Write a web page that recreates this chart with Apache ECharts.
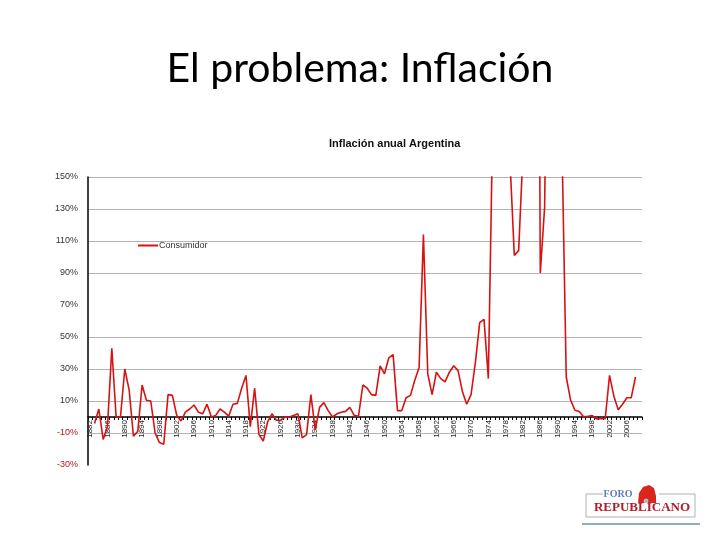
<!DOCTYPE html>
<html>
<head>
<meta charset="utf-8">
<script src="https://cdn.jsdelivr.net/npm/echarts@6/dist/echarts.min.js"></script>
<style>
  html, body { margin: 0; padding: 0; background: #fff; }
  #container { width: 720px; height: 540px; }
</style>
</head>
<body>
<div id="container"></div>
<script>
// años 1882-2009 (la última categoría queda vacía, como en el original)
var years = []
for (var y = 1882; y <= 2009; y++) {
  years.push(String(y))
}

// inflación anual (%); valores > 150 quedan fuera del área
var inflation = [
  null, -4, 5, -14, -6, 43, 0, 0,
  30, 17, -12, -9, 20, 10.5, 10, -10, -16, -17,
  14, 13.5, 1, -2.5, 3, 5, 7.5, 3, 2, 8,
  0, 1, 5, 3, 0.5, 8, 8.5, 18, 26, -6,
  18, -11, -15, -3, 2, -2, -2, 0, 0, 1,
  2, -13, -11, 14, -8, 6, 9, 4, 0, 2,
  3, 3.5, 6, 1, 0.5, 20, 18, 14, 13.5, 32,
  27, 37, 39, 4, 4, 12, 13.5, 23, 31, 114,
  27, 14, 28, 24, 22, 28, 32, 29, 16, 8,
  14, 34, 59, 61, 24, 183, 444, 176, 176, 160,
  101, 104, 165, 344, 627, 672, 90, 131, 343, 3079,
  2314, 172, 25, 10.6, 4.2, 3.4, 0.2, 0.5, 0.9, -1.2,
  -0.9, -1.1, 26, 13, 4.6, 8, 12, 12, 25
]

var seriesName = 'Consumidor'

var chart = echarts.init(document.getElementById('container'))

// la línea de 70% y la de -30% no se ven en el original
var gridColors = ['transparent', '#b4b4b4', '#b4b4b4', '#b4b4b4', '#b4b4b4',
  'transparent', '#b4b4b4', '#b4b4b4', '#b4b4b4', '#b4b4b4']

chart.setOption({
  backgroundColor: '#ffffff',
  animation: false,
  title: [
    {
      text: 'El problema: Inflación',
      left: 'center',
      top: 43,
      textStyle: { fontFamily: 'Lato', fontWeight: 'normal', fontSize: 41, color: '#000' }
    },
    {
      text: 'Inflación anual Argentina',
      left: 324,
      top: 133,
      textStyle: { fontFamily: 'Liberation Sans', fontWeight: 'bold', fontSize: 11, color: '#111' }
    }
  ],
  legend: {
    data: [seriesName],
    left: 133,
    top: 236,
    icon: 'rect',
    itemWidth: 20,
    itemHeight: 2,
    textStyle: { fontFamily: 'Liberation Sans', fontSize: 9, color: '#333', padding: [0, 0, 0, -4] }
  },
  grid: { left: 88, right: 78, top: 177, bottom: 75 },
  xAxis: {
    type: 'category',
    data: years,
    boundaryGap: true,
    // eje en el 0%: 48 px por encima del borde inferior
    offset: -48,
    axisLine: { onZero: false, lineStyle: { color: '#000', width: 1.5 } },
    axisTick: { show: true, interval: 0, length: 3, lineStyle: { color: '#000' } },
    axisLabel: {
      interval: 3,
      rotate: 90,
      margin: 3,
      fontFamily: 'Liberation Sans',
      fontSize: 8,
      color: '#222'
    },
    splitLine: { show: false }
  },
  yAxis: {
    type: 'value',
    min: -30,
    max: 150,
    interval: 20,
    axisLine: { show: true, lineStyle: { color: '#000', width: 1.5 } },
    axisTick: { show: false },
    axisLabel: {
      margin: 10,
      fontFamily: 'Liberation Sans',
      fontSize: 9,
      formatter: function(v) {
        return v < 0 ? '{neg|' + v + '%}' : '{pos|' + v + '%}'
      },
      rich: {
        pos: { color: '#333', fontSize: 9, fontFamily: 'Liberation Sans' },
        neg: { color: '#b01818', fontSize: 9, fontFamily: 'Liberation Sans' }
      }
    },
    splitLine: { show: true, lineStyle: { color: gridColors, width: 1 } }
  },
  series: [
    {
      name: seriesName,
      type: 'line',
      data: inflation,
      showSymbol: false,
      clip: true,
      color: '#d81212',
      lineStyle: { color: '#d81212', width: 1.6 }
    }
  ],
  graphic: [
    // logo Foro Republicano
    {
      type: 'rect',
      shape: { x: 586, y: 494, width: 109, height: 23 },
      style: { fill: 'none', stroke: '#b0b0b0', lineWidth: 1 }
    },
    {
      type: 'rect',
      shape: { x: 603, y: 490, width: 56, height: 8 },
      style: { fill: '#fff' }
    },
    {
      type: 'text',
      x: 618,
      y: 494,
      style: {
        text: 'FORO',
        fill: '#5b7bbf',
        font: 'bold 10px "Liberation Serif"',
        align: 'center',
        verticalAlign: 'middle'
      }
    },
    {
      type: 'polygon',
      shape: { points: [[638, 503], [639, 493], [643, 487], [649, 485], [654, 488], [656, 496], [656, 503]] },
      style: { fill: '#d8261c' }
    },
    {
      type: 'circle',
      shape: { cx: 646, cy: 501, r: 2 },
      style: { fill: '#9fb3d6', stroke: '#fff', lineWidth: 0.5 }
    },
    {
      type: 'text',
      x: 642,
      y: 508,
      style: {
        text: 'REPUBLICANO',
        fill: '#b01c2a',
        font: 'bold 13px "Liberation Serif"',
        align: 'center',
        verticalAlign: 'middle'
      }
    },
    {
      type: 'line',
      shape: { x1: 582, y1: 524, x2: 700, y2: 524 },
      style: { stroke: '#6b8fae', lineWidth: 1.5 }
    }
  ]
})
</script>
</body>
</html>
